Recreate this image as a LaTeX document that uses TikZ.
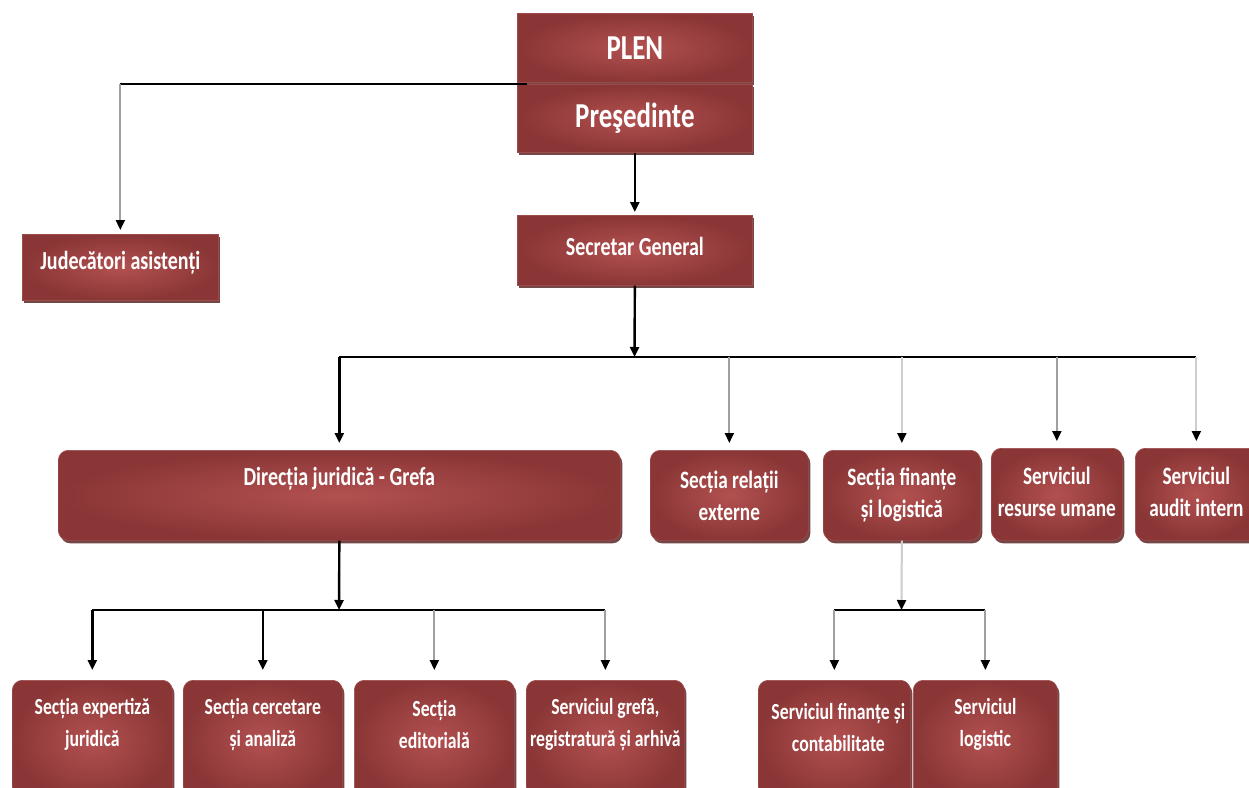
\documentclass[tikz,border=0pt]{standalone}
\usepackage{fontspec}
\newfontfamily\lbl[FakeStretch=0.77]{Carlito}
\usetikzlibrary{shadows,arrows.meta}
\definecolor{redout}{HTML}{8A3636}
\definecolor{redin}{HTML}{B35050}
\definecolor{redrim}{HTML}{9C4A4A}
\definecolor{redshadow}{HTML}{5E2626}
\definecolor{lgray}{HTML}{CDCDCD}
\definecolor{mgray}{HTML}{A0A0A0}
\begin{document}
\begin{tikzpicture}[x=1pt,y=-1pt,
  box/.style={anchor=north west, inner sep=0pt, inner color=redin, outer color=redout,
    draw=redrim, line width=0.7pt,
    drop shadow={shadow xshift=2pt,shadow yshift=-3pt,fill=redshadow,opacity=0.85}},
  rbox/.style={box, rounded corners=10pt},
  t/.style={text=white, align=center, inner sep=0pt, font=\lbl\bfseries\fontsize{23}{32}\selectfont},
  tsec/.style={t, font=\lbl\bfseries\fontsize{25}{32}\selectfont},
  tbig/.style={t, font=\lbl\bfseries\fontsize{35}{40}\selectfont},
  tmid/.style={t, font=\lbl\bfseries\fontsize{26}{32}\selectfont},
  blk/.style={line width=2.4pt, black},
  mgr/.style={line width=2pt, mgray},
  lgr/.style={line width=2pt, lgray},
  tip/.style={-{Triangle[length=10pt,width=9pt,color=black]}},
  arr/.style={tip, shorten >=7pt},
  arrb/.style={tip, shorten >=0pt}
]
\clip (0,0) rectangle (1249,787);
\fill[white] (0,0) rectangle (1249,787);

% top level
\node[box, minimum width=235, minimum height=69, label={[tbig]center:PLEN}] (plen) at (517,13) {};
\node[box, minimum width=235, minimum height=68, label={[tbig]center:Preşedinte}] (pres) at (517,84) {};
\node[box, minimum width=235, minimum height=70, label={[tmid,yshift=4pt]center:Secretar General}] (sg) at (517,215) {};
\node[box, minimum width=196, minimum height=66, label={[tmid,yshift=5pt]center:Judecători asistenți}] (jud) at (22,234) {};

% second row
\node[rbox, minimum width=562, minimum height=90, label={[tmid,yshift=17pt]center:Direcția juridică - Grefa}] (dj) at (58,450) {};
\node[rbox, minimum width=158, minimum height=90, label={[tsec]center:{Secția relații\\externe}}] (rel) at (650,450) {};
\node[rbox, minimum width=157, minimum height=90, label={[tsec]center:{Secția finanțe\\și logistică}}] (fin) at (823,450) {};
\node[rbox, minimum width=131, minimum height=92, label={[tsec,yshift=3pt]center:{Serviciul\\resurse umane}}] (res) at (991,448) {};
\node[rbox, minimum width=122, minimum height=92, label={[tsec,yshift=3pt]center:{Serviciul\\audit intern}}] (aud) at (1135,448) {};

% third row
\node[rbox, minimum width=160, minimum height=120, label={[t,yshift=16pt]center:{Secția expertiză\\juridică}}] (exp) at (12,680) {};
\node[rbox, minimum width=159, minimum height=120, label={[t,yshift=16pt]center:{Secția cercetare\\și analiză}}] (cer) at (183,680) {};
\node[rbox, minimum width=160, minimum height=120, label={[t,yshift=16pt]center:{Secția\\editorială}}] (edi) at (354,680) {};
\node[rbox, minimum width=158, minimum height=120, label={[t,yshift=16pt]center:{Serviciul grefă,\\registratură și arhivă}}] (gre) at (526,680) {};
\node[rbox, minimum width=152, minimum height=120, label={[t,yshift=13pt,xshift=4pt]center:{Serviciul finanțe și\\contabilitate}}] (con) at (758,680) {};
\node[rbox, minimum width=144, minimum height=120, label={[t,yshift=16pt]center:{Serviciul\\logistic}}] (log) at (913,680) {};

% connectors
\coordinate (j0) at (pres.north west -| jud.north);
\draw[blk] ([xshift=10pt]pres.north west) -- (j0);
\draw[mgr,tip,shorten >=4pt] (j0) -- (jud.north);
\draw[blk,tip,shorten >=3pt] (pres.south) -- (sg.north);

\coordinate (b1) at (634.5,357);
\draw[blk,arrb] (sg.south) -- (b1);
\draw[blk] (dj.north |- b1) -- (aud.north |- b1);
\draw[blk,arr] (dj.north |- b1) -- (dj.north);
\draw[mgr,arr] (rel.north |- b1) -- (rel.north);
\draw[lgr,arr] (fin.north |- b1) -- (fin.north);
\draw[mgr,arr] (res.north |- b1) -- (res.north);
\draw[lgr,arr] (aud.north |- b1) -- (aud.north);

\coordinate (b2) at (339,610);
\draw[blk,arrb] (dj.south) -- (b2);
\draw[blk] (exp.north |- b2) -- (gre.north |- b2);
\draw[blk,arr,shorten >=10pt] (exp.north |- b2) -- (exp.north);
\draw[blk,arr,shorten >=10pt] (cer.north |- b2) -- (cer.north);
\draw[mgr,arr,shorten >=10pt] (edi.north |- b2) -- (edi.north);
\draw[mgr,arr,shorten >=10pt] (gre.north |- b2) -- (gre.north);

\coordinate (b3) at (901.5,610);
\draw[lgr,arrb] (fin.south) -- (b3);
\draw[blk] (con.north |- b3) -- (log.north |- b3);
\draw[mgr,arr,shorten >=10pt] (con.north |- b3) -- (con.north);
\draw[mgr,arr,shorten >=10pt] (log.north |- b3) -- (log.north);
\end{tikzpicture}
\end{document}
